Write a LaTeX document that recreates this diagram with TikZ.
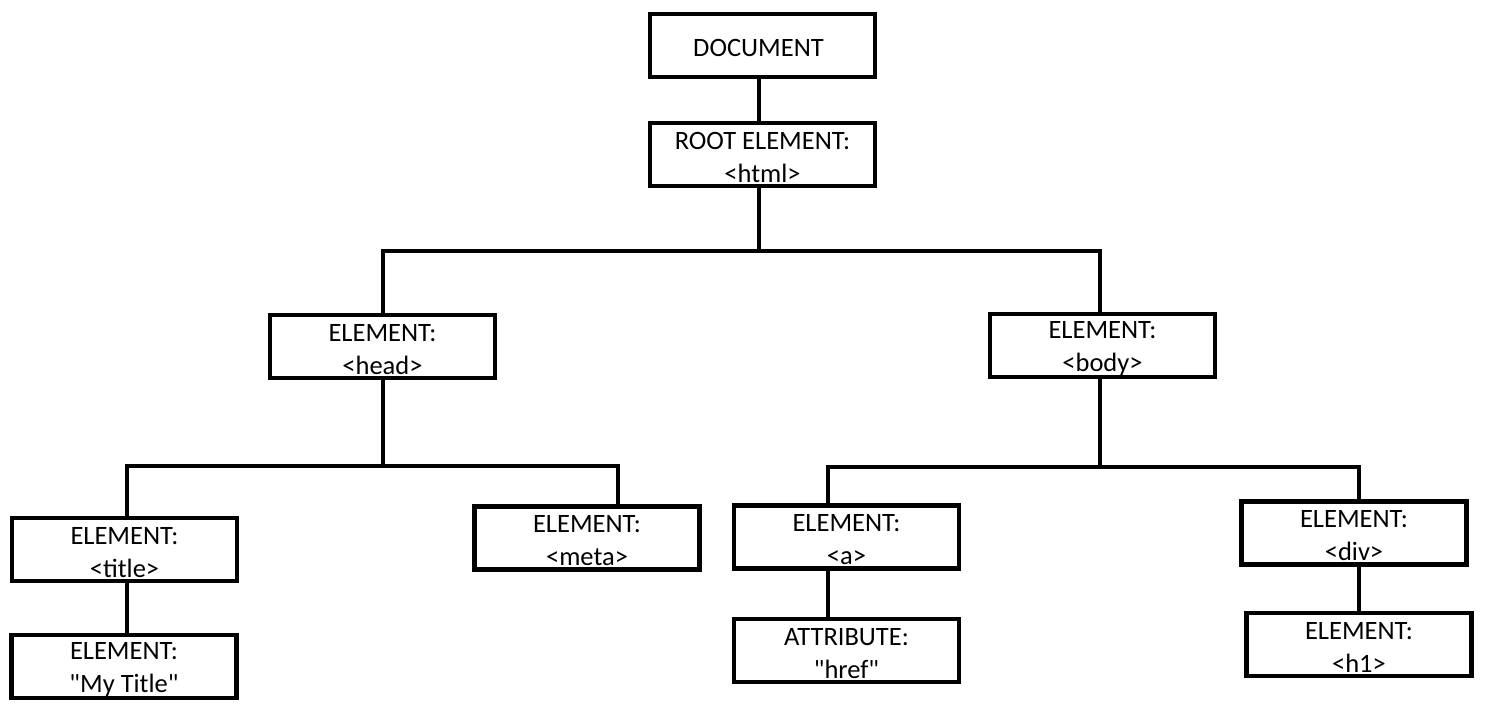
\documentclass[tikz,border=0pt]{standalone}
\usepackage{fontspec}
\setmainfont{Carlito}
\newcommand{\topst}{\rule{0pt}{23pt}}
\begin{document}
\begin{tikzpicture}[x=1pt,y=-1pt,
  box/.style={draw=black,line width=4.5pt,fill=white,minimum width=225pt,minimum height=63pt,
    inner sep=0pt,align=center,font=\fontsize{26.5}{33}\selectfont},
  conn/.style={draw=black,line width=4.5pt}]
\useasboundingbox (0,0) rectangle (1500,710);
% boxes
\node[box] (doc)     at (762.5,45.5)  {\hspace*{-8pt}\topst DOCUMENT};
\node[box] (html)    at (762.5,154.5) {\topst ROOT ELEMENT:\\<html>};
\node[box] (head)    at (382.5,346.5) {\topst ELEMENT:\\<head>};
\node[box] (body)    at (1102.5,345.5){\topst ELEMENT:\\<body>};
\node[box] (title)   at (124.5,549.5) {\topst ELEMENT:\\<title>};
\node[box] (meta)    at (587,538)     {\topst ELEMENT:\\<meta>};
\node[box] (a)       at (846.5,537)   {\topst ELEMENT:\\<a>};
\node[box] (div)     at (1354,533)    {\topst ELEMENT:\\<div>};
\node[box] (mytitle) at (124,666.5)   {\topst ELEMENT:\\\textquotedbl My Title\textquotedbl};
\node[box] (href)    at (846.5,650.5) {\topst ATTRIBUTE:\\\textquotedbl href\textquotedbl};
\node[box] (h1)      at (1359,644.5)  {\topst ELEMENT:\\<h1>};
% junction coordinates
\coordinate (j1) at (759,251);
\coordinate (hb) at (383,251);
\coordinate (bb) at (1100,251);
\coordinate (j2) at (383,466);
\coordinate (tb) at (127,466);
\coordinate (mb) at (618,466);
\coordinate (j3) at (1100,467);
\coordinate (ab) at (828,467);
\coordinate (db) at (1359,467);
% connectors
\draw[conn] (doc.south -| j1) -- (html.north -| j1);
\draw[conn] (html.south -| j1) -- (j1);
\draw[conn] (head.north -| hb) -- (hb) -- (bb) -- (body.north -| bb);
\draw[conn] (head.south -| j2) -- (j2);
\draw[conn] (title.north -| tb) -- (tb) -- (mb) -- (meta.north -| mb);
\draw[conn] (body.south -| j3) -- (j3);
\draw[conn] (a.north -| ab) -- (ab) -- (db) -- (div.north -| db);
\draw[conn] (title.south -| tb) -- (mytitle.north -| tb);
\draw[conn] (a.south -| ab) -- (href.north -| ab);
\draw[conn] (div.south -| db) -- (h1.north -| db);
\end{tikzpicture}
\end{document}
